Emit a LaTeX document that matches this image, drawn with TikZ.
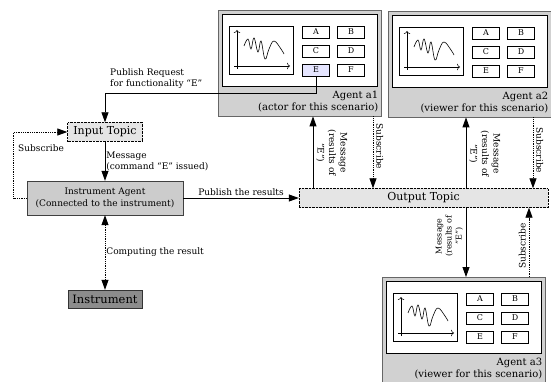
\documentclass[tikz,border=0pt]{standalone}
\usepackage{fontspec}
\setmainfont{DejaVu Serif}
\usetikzlibrary{arrows.meta}

\tikzset{
  agent/.style={draw=black!60, fill=black!18, minimum width=163pt, minimum height=106pt, inner sep=0pt},
  screen/.style={draw, fill=white, minimum width=155pt, minimum height=72pt, inner sep=0pt},
  chart/.style={draw, fill=white, minimum width=64pt, minimum height=48pt, inner sep=0pt},
  button/.style={draw, minimum width=27pt, minimum height=11.5pt, inner sep=0pt, font=\fontsize{8}{9}\selectfont},
  topic/.style={draw, densely dotted, fill=black!10, inner sep=0pt, font=\fontsize{11}{13}\selectfont},
  small/.style={font=\fontsize{9}{11.5}\selectfont},
  arr/.style={-{Triangle[length=10pt,width=7pt]}, line width=0.8pt},
  subarr/.style={densely dotted, -{Triangle[length=10pt,width=7pt]}, line width=0.8pt},
}

% one agent window: name, top left corner, two label lines, fill of button E
\newcommand{\agentpanel}[5]{%
  \begin{scope}[shift={#2}]
    \node[agent, anchor=north west] (#1) at (0,0) {};
    \node[screen, anchor=north west] (#1scr) at (4,4) {};
    \node[chart, anchor=north west] (#1chart) at (11,16) {};
    \draw[-{To[length=3pt]}, line width=0.6pt] (16,56) -- (72,56);
    \draw[-{To[length=3pt]}, line width=0.6pt] (19,59) -- (19,20);
    \draw[line width=0.6pt] plot[smooth, tension=0.7] coordinates {(26,36) (30,29) (33,39) (36,28) (40,42) (43,31) (47,49) (51,39) (56,31) (63,39) (66,44)};
    \foreach \b/\bx/\by/\bc in {A/98/22/white, B/133/22/white, C/98/41/white, D/133/41/white, E/98/60/#5, F/133/60/white}
      \node[button, fill=\bc] (#1\b) at (\bx,\by) {\b};
    \node[align=right, anchor=south east, inner sep=1pt, font=\fontsize{10}{12}\selectfont] (#1lab) at ([xshift=-2pt,yshift=3pt]#1.south east) {#3\\#4};
  \end{scope}}

\begin{document}
\begin{tikzpicture}[x=1pt, y=-1pt]
\useasboundingbox (0,0) rectangle (551,382);

% instrument side
\node[topic, minimum width=75pt, minimum height=19pt] (intopic) at (105,132) {Input Topic};
\node[draw=black!75, fill=black!20, minimum width=156pt, minimum height=34pt, align=center, small] (ia) at (105,198) {Instrument Agent\\(Connected to the instrument)};
\node[draw=black!80, fill=black!45, minimum width=74pt, minimum height=18pt, inner sep=0pt, font=\fontsize{11.5}{13}\selectfont] (instr) at (105,299) {Instrument};
\node[topic, minimum width=249pt, minimum height=19pt] (outtopic) at (423.5,198) {Output Topic};

% agents
\agentpanel{a1}{(218,10)}{Agent a1}{(actor for this scenario)}{blue!10}
\agentpanel{a2}{(388,11)}{Agent a2}{(viewer for this scenario)}{white}
\agentpanel{a3}{(382,277)}{Agent a3}{(viewer for this scenario)}{white}

% request from button E
\draw[arr] (a1E.south) -- ++(0,17) -| (intopic.north);
\node[small, align=left, anchor=west, inner sep=1pt] (req) at (109,78.5) {Publish Request\\for functionality ``E''};

\draw[subarr] (ia.west) -- ++(-13,0) |- (intopic.west);
\node[small, anchor=west, inner sep=1pt] (sublab) at (17,148) {Subscribe};

\draw[arr] (intopic.south) -- (ia.north)
  node[small, midway, right, align=left, inner sep=1pt] {Message\\(command ``E'' issued)};
\draw[arr] (ia.east) -- (outtopic.west)
  node[small, midway, above, inner sep=2pt] {Publish the results};
\draw[densely dotted, line width=0.8pt, {Triangle[length=10pt,width=7pt]}-{Triangle[length=10pt,width=7pt]}] (ia.south) -- (instr.north)
  node[small, midway, right, inner sep=1pt] {Computing the result};

% output topic to the agents
\coordinate (m1) at ([xshift=95pt]a1.south west);
\coordinate (s1) at ([xshift=155pt]a1.south west);
\coordinate (m2) at ([xshift=78pt]a2.south west);
\coordinate (s2) at ([xshift=145pt]a2.south west);
\coordinate (m3) at ([xshift=84pt]a3.north west);
\coordinate (s3) at ([xshift=147pt]a3.north west);

\draw[arr] (m1 |- outtopic.north) -- (m1);
\draw[subarr] (s1) -- (s1 |- outtopic.north);
\draw[arr] (m2 |- outtopic.north) -- (m2);
\draw[subarr] (s2) -- (s2 |- outtopic.north);
\draw[arr] (m3 |- outtopic.south) -- (m3);
\draw[subarr] (s3) -- (s3 |- outtopic.south);

\node[small, rotate=-90, anchor=south west, align=center, inner sep=1pt] at ([xshift=2pt,yshift=-12pt]m1) {Message\\(results of\\"E")};
\node[small, rotate=-90, anchor=south west, inner sep=1pt] at ([xshift=2pt,yshift=-6pt]s1) {Subscribe};
\node[small, rotate=-90, anchor=south west, align=center, inner sep=1pt] at ([xshift=2pt,yshift=-12pt]m2) {Message\\(results of\\"E")};
\node[small, rotate=-90, anchor=south west, inner sep=1pt] at ([xshift=2pt,yshift=-9pt]s2) {Subscribe};
\node[rotate=90, anchor=south west, align=center, inner sep=1pt, font=\fontsize{8}{10}\selectfont] at ([xshift=-2pt,yshift=19pt]m3) {Message\\(results of\\"E")};
\node[small, rotate=90, anchor=south west, inner sep=1pt] at ([xshift=-2pt,yshift=7pt]s3) {Subscribe};
\end{tikzpicture}
\end{document}
